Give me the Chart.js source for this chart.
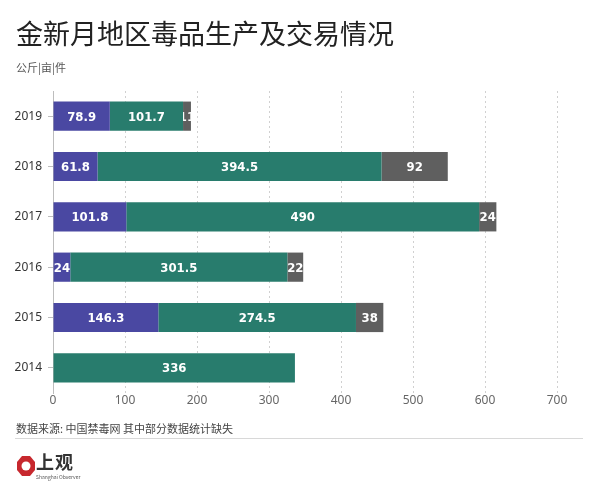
<!DOCTYPE html>
<html>
<head>
<meta charset="utf-8">
<script src="https://cdn.jsdelivr.net/npm/chart.js@4"></script>
<style>
  body { margin: 0; background: #fff; font-family: "Noto Sans CJK SC", "Noto Sans", sans-serif; }
  #wrap { position: relative; width: 600px; height: 493px; overflow: hidden; }
  #chart { position: absolute; left: 0; top: 0; }
  .title { position: absolute; left: 16px; top: 13px; font-size: 27px; color: #222; }
  .unit { position: absolute; left: 16px; top: 59px; font-size: 11px; color: #555; }
  .source { position: absolute; left: 16px; top: 420px; font-size: 11px; color: #444; }
  .rule { position: absolute; left: 15px; top: 438px; width: 568px; height: 1px; background: #d8d8d8; }
  .logo { position: absolute; left: 16px; top: 455px; }
  .logo-cn { position: absolute; left: 36px; top: 448px; font-size: 18px; color: #333; font-weight: bold; letter-spacing: 1px; }
  .logo-en { position: absolute; left: 36px; top: 473px; font-size: 5px; color: #555; }
</style>
</head>
<body>
<div id="wrap">
  <canvas id="chart" width="600" height="493"></canvas>
  <div class="title">金新月地区毒品生产及交易情况</div>
  <div class="unit">公斤|亩|件</div>
  <div class="source">数据来源: 中国禁毒网 其中部分数据统计缺失</div>
  <div class="rule"></div>
  <svg class="logo" width="20" height="22" viewBox="0 0 20 22">
    <polygon points="6,1 14,1 19,7 19,15 14,21 6,21 1,15 1,7" fill="#c7282e"/>
    <circle cx="10" cy="11" r="4.5" fill="#fff"/>
  </svg>
  <div class="logo-cn">上观</div>
  <div class="logo-en">Shanghai Observer</div>
</div>
<script>
// ----------- Data -----------
const years = ["2019", "2018", "2017", "2016", "2015", "2014"];
const purpleVals = [78.9, 61.8, 101.8, 24, 146.3, 0];
const greenVals = [101.7, 394.5, 490, 301.5, 274.5, 336];
const grayVals = [11, 92, 24, 22, 38, 0];
const xTicks = [0, 100, 200, 300, 400, 500, 600, 700];

// ----------- Labels inside bars -----------
const barLabels = {
    id: "barLabels",
    afterDatasetsDraw(chart) {
        const ctx = chart.ctx;
        chart.data.datasets.forEach((ds, i) => {
            chart.getDatasetMeta(i).data.forEach((bar, j) => {
                const v = ds.data[j];
                if (!v) return;
                const p = bar.getProps(["x", "y", "base", "height"], true);
                const left = Math.min(p.x, p.base), w = Math.abs(p.x - p.base);
                ctx.save();
                ctx.beginPath();
                ctx.rect(left, p.y - p.height / 2, w, p.height);
                ctx.clip();
                ctx.fillStyle = "#fff";
                ctx.font = "bold 13px 'DejaVu Sans Condensed', sans-serif";
                ctx.textAlign = "center";
                ctx.textBaseline = "middle";
                ctx.fillText(String(v), left + w / 2, p.y + 1);
                ctx.restore();
            });
        });
    }
};

new Chart(document.getElementById("chart"), {
    type: "bar",
    data: {
        labels: years,
        datasets: [
            { data: purpleVals, backgroundColor: "#4a48a2" },
            { data: greenVals, backgroundColor: "#287c6d" },
            { data: grayVals, backgroundColor: "#5f5f5f" }
        ]
    },
    options: {
        indexAxis: "y",
        responsive: false,
        animation: false,
        barPercentage: 0.58,
        categoryPercentage: 1,
        layout: { padding: { top: 91, right: 43, bottom: 86, left: 0 } },
        plugins: { legend: { display: false }, tooltip: { enabled: false } },
        scales: {
            x: {
                stacked: true,
                min: 0,
                max: 700,
                afterBuildTicks: s => { s.ticks = xTicks.map(v => ({ value: v })); },
                afterFit: s => { s.height = 14; },
                border: { display: false, dash: [2, 3] },
                grid: { color: "#d0d0d0", drawTicks: false },
                ticks: { color: "#666", font: { size: 12, family: "'Noto Sans', sans-serif" }, padding: 0 }
            },
            y: {
                stacked: true,
                afterFit: s => { s.width = 53; },
                border: { display: true, color: "#bdbdbd" },
                grid: { offset: false, drawOnChartArea: false, tickLength: 5, color: "#bdbdbd" },
                ticks: { color: "#333", font: { size: 12, family: "'Noto Sans', sans-serif" }, padding: 6 }
            }
        }
    },
    plugins: [barLabels]
});
</script>
</body>
</html>
